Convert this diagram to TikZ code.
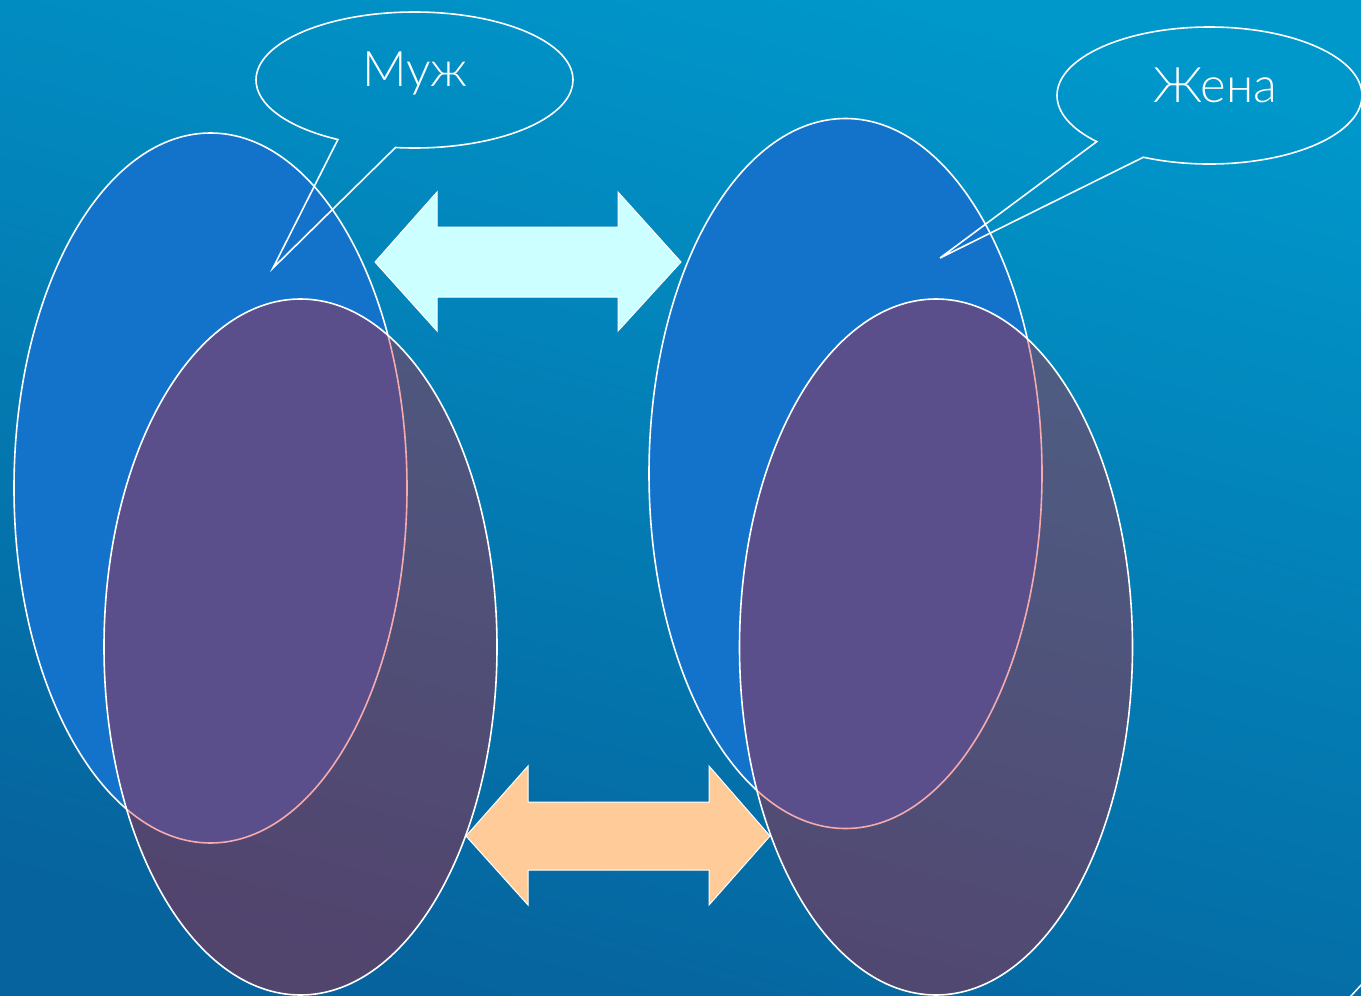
\documentclass[tikz,border=0pt]{standalone}
\usepackage{fontspec}
\setmainfont{Lato}
\newfontfamily\bubblefont{Lato Light}
\usetikzlibrary{shapes.geometric, shapes.callouts, positioning}
\definecolor{bgTop}{HTML}{0097CB}
\definecolor{bgBottom}{HTML}{06639D}
\definecolor{ovalBlue}{HTML}{1373CB}
\definecolor{ovalRose}{HTML}{E40912}
\definecolor{arrowCyan}{HTML}{CCFFFF}
\definecolor{arrowPeach}{HTML}{FFCC99}
\tikzset{
  ovalB/.style={ellipse, draw=white, fill=ovalBlue, line width=1.6pt,
                minimum width=393pt, minimum height=710pt, inner sep=0pt},
  ovalR/.style={ellipse, draw=white, fill=ovalRose, fill opacity=0.34,
                line width=1.6pt, minimum width=393pt, minimum height=696pt,
                inner sep=0pt},
  bubble/.style={ellipse callout, draw=white, line width=1.6pt, inner sep=0pt,
                 callout pointer arc=22},
  txtW/.style={text=white, anchor=base, inner sep=0pt,
               font=\bubblefont\fontsize{49}{56}\selectfont},
  arrowBox/.style={draw=white, line width=1pt, line join=miter},
}

\begin{document}
\begin{tikzpicture}[x=1pt, y=-1pt]
    \useasboundingbox (0,0) rectangle (1361,996);
    \shade[top color=bgTop, bottom color=bgBottom, shading angle=-15]
      (0,0) rectangle (1361,996);
    % husband and wife
    \node[ovalB] (husband) at (210.5,488) {};
    \node[ovalB] (wife) at (845.5,473.5) {};
    \node[ovalR] (husbandR) at (300.5,647) {};
    \node[ovalR] (wifeR) at (936,647) {};
    % speech bubbles
    \node[bubble, minimum width=317pt, minimum height=136pt,
          callout absolute pointer={(273,268)}] (callHusband) at (414.5,80) {};
    \node[bubble, minimum width=305pt, minimum height=137pt,
          callout absolute pointer={(940,258)}] (callWife) at (1209.5,95.5) {};
    \node[txtW] (txtHusband) at (415,86) {Муж};
    \node[txtW] (txtWife) at (1215,102) {Жена};
    % double arrows
    \filldraw[arrowBox, fill=arrowCyan] (375,262) -- (437,192) -- (437,227)
      -- (618,227) -- (618,192) -- (681,262) -- (618,331) -- (618,297)
      -- (437,297) -- (437,331) -- cycle;
    \filldraw[arrowBox, fill=arrowPeach] (466,836) -- (528,766) -- (528,802)
      -- (709,802) -- (709,766) -- (770,836) -- (709,905) -- (709,870)
      -- (528,870) -- (528,905) -- cycle;
    \draw[white, line width=1.5pt] (1350,997) -- (1362,984);
  \end{tikzpicture}
\end{document}
